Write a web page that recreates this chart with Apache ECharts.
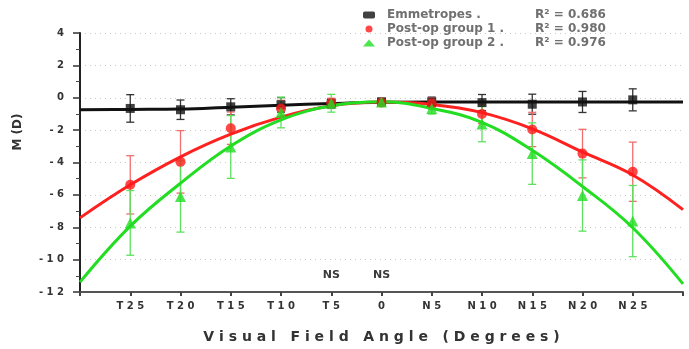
<!DOCTYPE html>
<html>
<head>
<meta charset="utf-8">
<script src="https://cdn.jsdelivr.net/npm/echarts@6/dist/echarts.min.js"></script>
<style>
  html, body { margin: 0; padding: 0; background: #fff; }
  #chart { width: 689px; height: 349px; }
</style>
</head>
<body>
<div id="chart"></div>
<script>
// measured angles (degrees), T = temporal (negative), N = nasal (positive)
var angles = [-25, -20, -15, -10, -5, 0, 5, 10, 15, 20, 25];
var tickAngles = [-25, -20, -15, -10, -5, 0, 5, 10, 15, 20, 25];
var tickLabels = ['T25', 'T20', 'T15', 'T10', 'T5', '0', 'N5', 'N10', 'N15', 'N20', 'N25'];

var emmMean = [-0.66, -0.74, -0.56, -0.44, -0.36, -0.25, -0.26, -0.3, -0.4, -0.26, -0.13];
var emmErr = [0.85, 0.6, 0.5, 0.45, 0.3, 0.2, 0.3, 0.5, 0.62, 0.65, 0.68];
var grp1Mean = [-5.38, -3.96, -1.88, -0.66, -0.33, -0.3, -0.35, -1.0, -1.96, -3.45, -4.57];
var grp1Err = [1.8, 1.93, 1.0, 0.5, 0.3, 0.2, 0.35, 0.6, 1.06, 1.5, 1.83];
var grp2Mean = [-7.73, -6.1, -3.04, -0.91, -0.34, -0.26, -0.66, -1.62, -3.45, -6.04, -7.62];
var grp2Err = [2.0, 2.2, 1.94, 0.95, 0.55, 0.2, 0.35, 1.1, 1.9, 2.2, 2.2];

// fitted curves
var fitAngles = [-30, -25, -20, -15, -10, -5, 0, 5, 10, 15, 20, 25, 30];
var emmFit = [-0.74, -0.72, -0.7, -0.58, -0.46, -0.36, -0.28, -0.26, -0.26, -0.26, -0.26, -0.26, -0.26];
var grp1Fit = [-7.42, -5.38, -3.65, -2.25, -1.2, -0.5, -0.27, -0.42, -0.92, -1.92, -3.35, -4.77, -6.91];
var grp2Fit = [-11.39, -7.93, -5.28, -2.98, -1.37, -0.5, -0.25, -0.66, -1.52, -3.25, -5.48, -8.03, -11.5];

var r2 = { 'Emmetropes': '0.686', 'Post-op group 1': '0.980', 'Post-op group 2': '0.976' };
var nsAngles = [-5, 0];
var nsLevel = -10.95;

var FONT = '"DejaVu Sans", Verdana, sans-serif';

function spaced(s) {
  return s.split('').join(' ');
}

function pairs(xs, ys) {
  return xs.map(function (x, i) { return [x, ys[i]]; });
}

function errorBars(name, means, errs, color) {
  return {
    name: name + ' SD',
    type: 'custom',
    z: 1,
    silent: true,
    data: angles.map(function (a, i) { return [a, means[i] - errs[i], means[i] + errs[i]]; }),
    encode: { x: 0, y: [1, 2] },
    renderItem: function (params, api) {
      var x = api.value(0);
      var lo = api.coord([x, api.value(1)]);
      var hi = api.coord([x, api.value(2)]);
      var w = 4;
      var style = { stroke: color, lineWidth: 1.3 };
      return {
        type: 'group',
        children: [
          { type: 'line', shape: { x1: lo[0], y1: lo[1], x2: hi[0], y2: hi[1] }, style: style },
          { type: 'line', shape: { x1: lo[0] - w, y1: lo[1], x2: lo[0] + w, y2: lo[1] }, style: style },
          { type: 'line', shape: { x1: hi[0] - w, y1: hi[1], x2: hi[0] + w, y2: hi[1] }, style: style }
        ]
      };
    }
  };
}

function fitLine(name, values, color) {
  return {
    name: name + ' fit',
    type: 'line',
    z: 2,
    smooth: 0.4,
    symbol: 'none',
    silent: true,
    lineStyle: { color: color, width: 3 },
    data: pairs(fitAngles, values)
  };
}

function points(name, means, symbol, size, color) {
  return {
    name: name,
    type: 'scatter',
    z: 3,
    symbol: symbol,
    symbolSize: size,
    itemStyle: { color: color },
    data: pairs(angles, means)
  };
}

var chart = echarts.init(document.getElementById('chart'));

chart.setOption({
  animation: false,
  grid: { left: 80, right: 6, top: 33, bottom: 54 },
  legend: {
    orient: 'vertical',
    left: 358,
    top: 4,
    itemWidth: 12,
    itemHeight: 7,
    itemGap: 2,
    data: [
      { name: 'Emmetropes', icon: 'roundRect' },
      { name: 'Post-op group 1', icon: 'circle' },
      { name: 'Post-op group 2', icon: 'triangle' }
    ],
    formatter: function (name) {
      return '{n|' + name + ' .}{r|R\u00b2 = ' + r2[name] + '}';
    },
    textStyle: {
      fontFamily: FONT,
      fontSize: 12,
      fontWeight: 'bold',
      color: '#707070',
      rich: {
        n: { width: 148, padding: [0, 0, 0, 7], fontFamily: FONT, fontSize: 12, fontWeight: 'bold', color: '#707070' },
        r: { fontFamily: FONT, fontSize: 12, fontWeight: 'bold', color: '#707070' }
      }
    }
  },
  xAxis: {
    type: 'value',
    min: -30,
    max: 30,
    interval: 5,
    name: spaced('Visual') + '   ' + spaced('Field') + '   ' + spaced('Angle') + '   ' + spaced('(Degrees)'),
    nameLocation: 'middle',
    nameGap: 38,
    nameTextStyle: { fontFamily: FONT, fontSize: 14, fontWeight: 'bold', color: '#333' },
    axisLine: { onZero: false, lineStyle: { color: '#555', width: 2 } },
    axisTick: { show: true, length: 4, lineStyle: { color: '#444', width: 2 } },
    axisLabel: {
      margin: 9,
      fontFamily: FONT,
      fontSize: 10,
      fontWeight: 'bold',
      color: '#333',
      formatter: function (v) {
        var i = tickAngles.indexOf(v);
        return i < 0 ? '' : spaced(tickLabels[i]);
      }
    },
    splitLine: { show: false }
  },
  yAxis: {
    type: 'value',
    min: -12,
    max: 4,
    interval: 2,
    axisLine: { show: true, onZero: false, lineStyle: { color: '#222', width: 2 } },
    axisTick: { show: true, length: 7, lineStyle: { color: '#333', width: 1.5 } },
    minorTick: { show: true, splitNumber: 2, length: 4, lineStyle: { color: '#444' } },
    axisLabel: {
      margin: 16,
      fontFamily: FONT,
      fontSize: 10,
      fontWeight: 'bold',
      color: '#333',
      formatter: function (v) {
        return v < 0 ? '- ' + spaced(String(-v)) : String(v);
      }
    },
    splitLine: { show: true, lineStyle: { color: '#c8c8c8', type: [1, 4], width: 1 } }
  },
  graphic: [
    {
      type: 'text',
      x: 18,
      y: 132,
      rotation: Math.PI / 2,
      style: {
        text: 'M (D)',
        fontFamily: FONT,
        fontSize: 12,
        fontWeight: 'bold',
        fill: '#333',
        align: 'center',
        verticalAlign: 'middle'
      }
    }
  ],
  series: [
    errorBars('Emmetropes', emmMean, emmErr, '#333'),
    errorBars('Post-op group 1', grp1Mean, grp1Err, '#f26d6d'),
    errorBars('Post-op group 2', grp2Mean, grp2Err, '#5ee05e'),
    fitLine('Emmetropes', emmFit, '#111'),
    fitLine('Post-op group 1', grp1Fit, '#ff2020'),
    fitLine('Post-op group 2', grp2Fit, '#22dd22'),
    points('Emmetropes', emmMean, 'rect', 9, '#111'),
    points('Post-op group 1', grp1Mean, 'circle', 10, '#ff1a1a'),
    points('Post-op group 2', grp2Mean, 'triangle', 11, '#22dd22'),
    {
      name: 'NS',
      type: 'custom',
      z: 4,
      silent: true,
      data: nsAngles.map(function (a) { return [a, nsLevel]; }),
      encode: { x: 0, y: 1 },
      renderItem: function (params, api) {
        var p = api.coord([api.value(0), api.value(1)]);
        return {
          type: 'text',
          x: p[0],
          y: p[1],
          style: {
            text: 'NS',
            fontFamily: FONT,
            fontSize: 11,
            fontWeight: 'bold',
            fill: '#3a3a3a',
            align: 'center',
            verticalAlign: 'middle'
          }
        };
      }
    }
  ]
});
</script>
</body>
</html>
